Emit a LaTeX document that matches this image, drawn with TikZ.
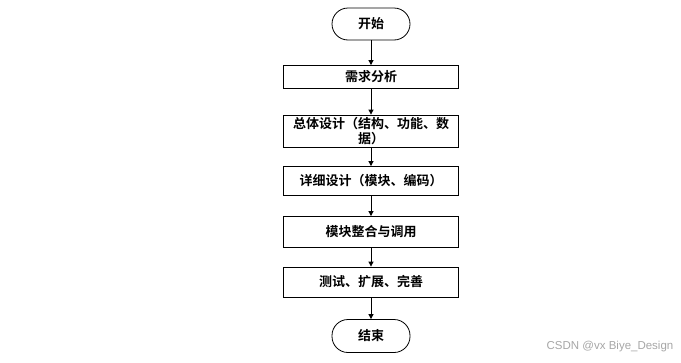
\documentclass[tikz,border=0pt]{standalone}
\usepackage{fontspec}
\newfontfamily\cjk{Noto Sans CJK SC}[BoldFont={Noto Sans CJK SC Bold}]
\newfontfamily\wmfont{Liberation Sans}
\usetikzlibrary{arrows.meta}
\begin{document}
\begin{tikzpicture}[x=1pt, y=-1pt,
  proc/.style={draw, line width=0.8pt, minimum width=175pt, inner sep=1pt,
    align=center, font=\cjk\bfseries\fontsize{13}{15}\selectfont},
  term/.style={draw, line width=0.8pt, rounded corners=16pt, minimum width=78pt,
    minimum height=32pt, font=\cjk\bfseries\fontsize{13}{15}\selectfont},
  flow/.style={line width=0.8pt, -{Triangle[length=5pt,width=5pt]}}]
  \useasboundingbox (0,0) rectangle (681,362);
  \node[term] (start) at (371,24) {开始};
  \node[proc, minimum height=23pt] (need) at (371,77) {需求分析};
  \node[proc, minimum height=32pt] (overall) at (371,131) {总体设计（结构、功能、数\\据）};
  \node[proc, minimum height=29pt] (detail) at (371,181) {详细设计（模块、编码）};
  \node[proc, minimum height=31pt] (merge) at (371,232) {模块整合与调用};
  \node[proc, minimum height=30pt] (test) at (371,282) {测试、扩展、完善};
  \node[term, minimum height=33pt] (stop) at (371,336) {结束};
  \draw[flow] (start) -- (need);
  \draw[flow] (need) -- (overall);
  \draw[flow] (overall) -- (detail);
  \draw[flow] (detail) -- (merge);
  \draw[flow] (merge) -- (test);
  \draw[flow] (test) -- (stop);
  \node[text=black!35, font=\wmfont\fontsize{11.5}{13}\selectfont] (mark) at (610,347) {CSDN @vx Biye\_Design};
\end{tikzpicture}
\end{document}
